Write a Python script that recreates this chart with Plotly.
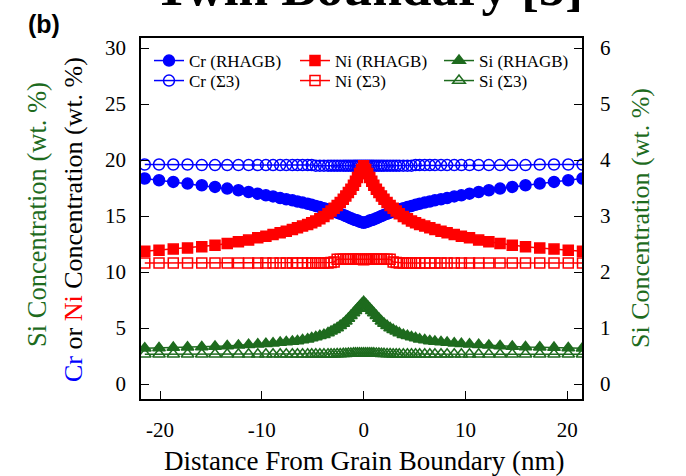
import plotly.graph_objects as go

# Distance from grain boundary (nm)
x_nm = [-21.5, -20.1, -18.7, -17.3, -15.9, -14.6, -13.4, -12.3, -11.3, -10.4, -9.6, -8.9,
        -8.2, -7.6, -7.0, -6.5, -6.0, -5.5, -5.1, -4.7, -4.3, -3.9, -3.5, -3.2, -2.9, -2.6,
        -2.3, -2.0, -1.75, -1.5, -1.25, -1.0, -0.8, -0.6, -0.4, -0.2, 0.0,
        0.2, 0.4, 0.6, 0.8, 1.0, 1.25, 1.5, 1.75, 2.0, 2.3, 2.6, 2.9, 3.2, 3.5, 3.9, 4.3,
        4.7, 5.1, 5.5, 6.0, 6.5, 7.0, 7.6, 8.2, 8.9, 9.6, 10.4, 11.3, 12.3, 13.4, 14.6,
        15.9, 17.3, 18.7, 20.1, 21.5]

cr_rhagb = [18.35, 18.2, 18.05, 17.9, 17.75, 17.6, 17.45, 17.3, 17.15, 17.0, 16.85, 16.75,
            16.6, 16.5, 16.4, 16.3, 16.2, 16.1, 16.0, 15.9, 15.8, 15.7, 15.6, 15.5, 15.4, 15.3,
            15.2, 15.1, 15.0, 14.9, 14.8, 14.7, 14.65, 14.6, 14.5, 14.45, 14.4,
            14.45, 14.5, 14.6, 14.65, 14.7, 14.8, 14.9, 15.0, 15.1, 15.2, 15.3, 15.4, 15.5,
            15.6, 15.7, 15.8, 15.9, 16.0, 16.1, 16.2, 16.3, 16.4, 16.5, 16.6, 16.75, 16.85,
            17.0, 17.15, 17.3, 17.45, 17.6, 17.75, 17.9, 18.05, 18.2, 18.35]

cr_s3 = [19.6, 19.6, 19.6, 19.6, 19.55, 19.55, 19.55, 19.55, 19.55, 19.55, 19.55, 19.55,
         19.55, 19.55, 19.55, 19.55, 19.55, 19.55, 19.55, 19.5, 19.5, 19.5, 19.5, 19.5, 19.5,
         19.5, 19.5, 19.5, 19.5, 19.5, 19.5, 19.5, 19.5, 19.5, 19.5, 19.5, 19.5,
         19.5, 19.5, 19.5, 19.5, 19.5, 19.5, 19.5, 19.5, 19.5, 19.5, 19.5, 19.5, 19.5,
         19.5, 19.5, 19.5, 19.5, 19.55, 19.55, 19.55, 19.55, 19.55, 19.55, 19.55, 19.55,
         19.55, 19.55, 19.55, 19.55, 19.55, 19.55, 19.55, 19.6, 19.6, 19.6, 19.6]

ni_rhagb = [11.85, 11.95, 12.05, 12.15, 12.25, 12.4, 12.55, 12.7, 12.85, 13.05, 13.2, 13.35,
            13.5, 13.65, 13.8, 13.95, 14.1, 14.25, 14.4, 14.55, 14.75, 14.95, 15.2, 15.45,
            15.7, 15.95, 16.2, 16.5, 16.8, 17.1, 17.4, 17.75, 18.1, 18.45, 18.8, 19.15, 19.5,
            19.15, 18.8, 18.45, 18.1, 17.75, 17.4, 17.1, 16.8, 16.5, 16.2, 15.95, 15.7, 15.45,
            15.2, 14.95, 14.75, 14.55, 14.4, 14.25, 14.1, 13.95, 13.8, 13.65, 13.5, 13.35,
            13.2, 13.05, 12.85, 12.7, 12.55, 12.4, 12.25, 12.15, 12.05, 11.95, 11.85]

ni_s3 = [10.8, 10.8, 10.8, 10.8, 10.8, 10.8, 10.8, 10.8, 10.8, 10.8, 10.8, 10.8,
         10.8, 10.8, 10.8, 10.8, 10.8, 10.8, 10.8, 10.8, 10.8, 10.8, 10.8, 10.85, 10.9,
         11.15, 11.15, 11.15, 11.15, 11.15, 11.15, 11.15, 11.15, 11.15, 11.15, 11.15, 11.1,
         11.15, 11.15, 11.15, 11.15, 11.15, 11.15, 11.15, 11.15, 11.15, 11.15, 11.15, 10.9,
         10.85, 10.8, 10.8, 10.8, 10.8, 10.8, 10.8, 10.8, 10.8, 10.8, 10.8, 10.8, 10.8,
         10.8, 10.8, 10.8, 10.8, 10.8, 10.8, 10.8, 10.8, 10.8, 10.8, 10.8]

si_rhagb = [0.64, 0.645, 0.65, 0.655, 0.66, 0.67, 0.68, 0.69, 0.70, 0.71, 0.72, 0.73,
            0.74, 0.75, 0.76, 0.77, 0.785, 0.80, 0.82, 0.84, 0.86, 0.88, 0.91, 0.94, 0.97,
            1.0, 1.04, 1.08, 1.12, 1.17, 1.22, 1.27, 1.31, 1.35, 1.39, 1.43, 1.47,
            1.43, 1.39, 1.35, 1.31, 1.27, 1.22, 1.17, 1.12, 1.08, 1.04, 1.0, 0.97, 0.94,
            0.91, 0.88, 0.86, 0.84, 0.82, 0.80, 0.785, 0.77, 0.76, 0.75, 0.74, 0.73, 0.72,
            0.71, 0.70, 0.69, 0.68, 0.67, 0.66, 0.655, 0.65, 0.645, 0.64]

si_s3 = [0.53, 0.53, 0.53, 0.53, 0.53, 0.53, 0.53, 0.53, 0.53, 0.53, 0.53, 0.53,
         0.53, 0.53, 0.53, 0.53, 0.53, 0.53, 0.53, 0.53, 0.53, 0.53, 0.53, 0.53, 0.53,
         0.535, 0.535, 0.54, 0.54, 0.545, 0.545, 0.55, 0.55, 0.55, 0.55, 0.55, 0.55,
         0.55, 0.55, 0.55, 0.55, 0.55, 0.545, 0.545, 0.54, 0.54, 0.535, 0.535, 0.53, 0.53,
         0.53, 0.53, 0.53, 0.53, 0.53, 0.53, 0.53, 0.53, 0.53, 0.53, 0.53, 0.53, 0.53,
         0.53, 0.53, 0.53, 0.53, 0.53, 0.53, 0.53, 0.53, 0.53, 0.53]

x_ticks = [-20, -10, 0, 10, 20]
x_tick_text = ["-20", "-10", "0", "10", "20"]

BLUE = "#0000ff"
RED = "#ff0000"
GREEN = "#1e6b1e"
SERIF = "Liberation Serif"

fig = go.Figure()

def add(y, name, color, symbol, size, legend, yaxis="y"):
    fig.add_trace(go.Scatter(
        x=x_nm, y=y, name=name, mode="lines+markers", yaxis=yaxis,
        line=dict(color=color, width=1.5),
        marker=dict(symbol=symbol, size=size, color=color,
                    line=dict(color=color, width=1.5)),
        legend=legend,
    ))

add(cr_s3, "Cr (Σ3)", BLUE, "circle-open", 11, "legend4")
add(cr_rhagb, "Cr (RHAGB)", BLUE, "circle", 11, "legend")
add(ni_s3, "Ni (Σ3)", RED, "square-open", 10, "legend5")
add(ni_rhagb, "Ni (RHAGB)", RED, "square", 10, "legend2")
add(si_rhagb, "Si (RHAGB)", GREEN, "triangle-up", 11, "legend3", "y2")
add(si_s3, "Si (Σ3)", GREEN, "triangle-up-open", 11, "legend6", "y2")

L, R, T, B = 141, 582, 38, 399
PW, PH = R - L, B - T

def px2x(px):
    return (px - L) / PW

def px2y(py):
    return (B - py) / PH

def leg(px, py):
    return dict(x=px2x(px), y=px2y(py), yanchor="middle", xanchor="left",
                bgcolor="rgba(0,0,0,0)", font=dict(family=SERIF, size=17, color="black"),
                tracegroupgap=0, itemwidth=30)

axis_common = dict(showline=True, linecolor="black", linewidth=1.5, ticks="inside",
                   ticklen=8, tickwidth=1.2, tickcolor="black", showgrid=False,
                   zeroline=False, tickfont=dict(family=SERIF, size=21, color="black"))

fig.update_layout(
    width=686, height=476,
    margin=dict(l=L, r=686 - R, t=T, b=476 - B),
    paper_bgcolor="white", plot_bgcolor="white",
    showlegend=True,
    legend=leg(149, 61), legend2=leg(295, 61), legend3=leg(439, 61),
    legend4=leg(149, 81), legend5=leg(295, 81), legend6=leg(439, 81),
    xaxis=dict(range=[-21.87, 21.45], tickvals=x_ticks, ticktext=x_tick_text, mirror=True,
               ticklabelstandoff=11, **axis_common),
    yaxis=dict(range=[-1.34, 30.9], tick0=0, dtick=5, mirror=True,
               ticklabelstandoff=9, **axis_common),
    yaxis2=dict(range=[-0.268, 6.18], tick0=0, dtick=1, overlaying="y", side="right",
                ticklabelstandoff=12, **axis_common),
)

ann = [
    dict(text="Distance From Grain Boundary (nm)", x=px2x(364), y=px2y(461),
         xanchor="center", yanchor="middle", font=dict(family=SERIF, size=27, color="black")),
    dict(text="<span style='color:#0000ff'>Cr</span> or <span style='color:#ff0000'>Ni</span> Concentration (wt. %)",
         x=px2x(73), y=px2y(220), textangle=-90, xanchor="center", yanchor="middle",
         font=dict(family=SERIF, size=26, color="black")),
    dict(text="Si Concentration (wt. %)", x=px2x(37), y=px2y(215), textangle=-90,
         xanchor="center", yanchor="middle", font=dict(family=SERIF, size=26.5, color=GREEN)),
    dict(text="Si Concentration (wt. %)", x=px2x(640), y=px2y(218), textangle=-90,
         xanchor="center", yanchor="middle", font=dict(family=SERIF, size=26, color=GREEN)),
    dict(text="<b>(b)</b>", x=px2x(44), y=px2y(24), xanchor="center", yanchor="middle",
         font=dict(family="Liberation Sans", size=25, color="black")),
    dict(text="<b>Twin Boundary [5]</b>", x=px2x(368), y=px2y(18), xanchor="center",
         yanchor="bottom", font=dict(family=SERIF, size=53, color="black")),
]
for a in ann:
    a.update(xref="paper", yref="paper", showarrow=False)
fig.update_layout(annotations=ann)

fig.write_html("out.html")
